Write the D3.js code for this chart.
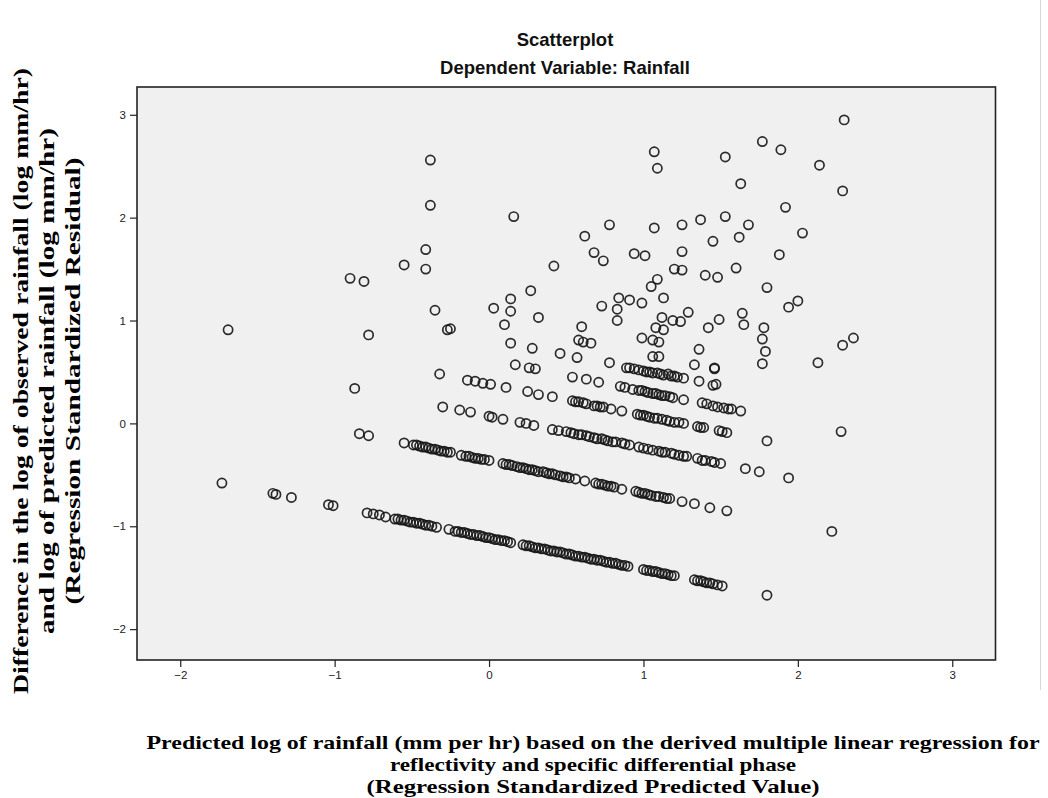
<!DOCTYPE html>
<html>
<head>
<meta charset="utf-8">
<script src="https://cdnjs.cloudflare.com/ajax/libs/d3/7.8.5/d3.min.js"></script>
<style>
  body { margin: 0; background: #fff; }
  svg { display: block; }
  .tick text { font-family: "Liberation Sans", Arial, sans-serif; font-size: 11.5px; fill: #222; }
  .title { font-family: "Liberation Sans", Arial, sans-serif; font-weight: bold; font-size: 18.5px; fill: #111; }
  .axis-label { font-family: "Liberation Serif", "Times New Roman", serif; font-weight: bold; font-size: 21px; fill: #000; }
</style>
</head>
<body>
<svg id="chart" width="1048" height="798"></svg>
<script>
// predicted value (x) vs standardized residual (y)
var band1 = [[-1.73,-0.58],[-1.40,-0.68],[-1.38,-0.69],[-1.28,-0.72],[-1.04,-0.79],[-1.01,-0.80],
  [-0.79,-0.87],[-0.75,-0.88],[-0.71,-0.89],[-0.67,-0.91],[-0.61,-0.93],[-0.59,-0.93],[-0.57,-0.94],
  [-0.55,-0.94],[-0.53,-0.95],[-0.51,-0.96],[-0.49,-0.96],[-0.47,-0.97],[-0.45,-0.97],[-0.43,-0.98],
  [-0.41,-0.99],[-0.39,-0.99],[-0.37,-1.00],[-0.34,-1.01],[-0.26,-1.03],[-0.22,-1.05],[-0.20,-1.05],
  [-0.18,-1.06],[-0.16,-1.06],[-0.14,-1.07],[-0.12,-1.08],[-0.10,-1.08],[-0.08,-1.09],[-0.06,-1.09],
  [-0.04,-1.10],[-0.02,-1.11],[0.00,-1.11],[0.02,-1.12],[0.04,-1.13],[0.06,-1.13],[0.08,-1.14],
  [0.10,-1.14],[0.12,-1.15],[0.14,-1.16],[0.22,-1.18],[0.24,-1.19],[0.26,-1.19],[0.28,-1.20],
  [0.30,-1.21],[0.32,-1.21],[0.34,-1.22],[0.36,-1.22],[0.38,-1.23],[0.40,-1.24],[0.42,-1.24],
  [0.44,-1.25],[0.46,-1.25],[0.48,-1.26],[0.50,-1.27],[0.52,-1.27],[0.54,-1.28],[0.56,-1.29],
  [0.58,-1.29],[0.60,-1.30],[0.62,-1.30],[0.64,-1.31],[0.66,-1.32],[0.68,-1.32],[0.70,-1.33],
  [0.72,-1.33],[0.74,-1.34],[0.76,-1.35],[0.78,-1.35],[0.80,-1.36],[0.82,-1.36],[0.84,-1.37],
  [0.86,-1.38],[0.88,-1.38],[0.90,-1.39],[1.00,-1.42],[1.02,-1.43],[1.04,-1.43],[1.06,-1.44],
  [1.08,-1.44],[1.10,-1.45],[1.12,-1.46],[1.14,-1.46],[1.16,-1.47],[1.18,-1.48],[1.20,-1.48],
  [1.33,-1.52],[1.35,-1.53],[1.37,-1.53],[1.39,-1.54],[1.41,-1.55],[1.43,-1.55],[1.45,-1.56],
  [1.48,-1.57],[1.51,-1.58],[1.80,-1.67]];

var band2 = [[-0.84,-0.10],[-0.78,-0.12],[-0.55,-0.19],[-0.49,-0.21],[-0.47,-0.21],[-0.45,-0.22],
  [-0.43,-0.23],[-0.41,-0.23],[-0.39,-0.24],[-0.37,-0.25],[-0.35,-0.25],[-0.33,-0.26],[-0.31,-0.27],
  [-0.29,-0.27],[-0.27,-0.28],[-0.25,-0.28],[-0.18,-0.31],[-0.15,-0.32],[-0.13,-0.32],[-0.11,-0.33],
  [-0.09,-0.34],[-0.07,-0.34],[-0.05,-0.35],[-0.03,-0.35],[0.00,-0.36],[0.09,-0.39],[0.11,-0.40],
  [0.13,-0.40],[0.15,-0.41],[0.18,-0.42],[0.20,-0.43],[0.22,-0.43],[0.24,-0.44],[0.26,-0.45],
  [0.28,-0.45],[0.30,-0.46],[0.32,-0.47],[0.35,-0.47],[0.37,-0.48],[0.39,-0.49],[0.41,-0.49],
  [0.43,-0.50],[0.46,-0.51],[0.48,-0.52],[0.50,-0.52],[0.52,-0.53],[0.56,-0.54],[0.62,-0.56],
  [0.69,-0.58],[0.71,-0.59],[0.73,-0.59],[0.75,-0.60],[0.77,-0.61],[0.79,-0.61],[0.81,-0.62],
  [0.86,-0.64],[0.95,-0.66],[0.97,-0.67],[0.99,-0.68],[1.01,-0.68],[1.03,-0.69],[1.05,-0.70],
  [1.08,-0.71],[1.10,-0.71],[1.13,-0.72],[1.15,-0.73],[1.17,-0.73],[1.25,-0.76],[1.33,-0.78],
  [1.43,-0.82],[1.54,-0.85]];

var band3 = [[-0.87,0.34],[-0.30,0.16],[-0.19,0.13],[-0.12,0.11],[0.00,0.07],[0.02,0.06],[0.09,0.04],
  [0.20,0.01],[0.24,0.00],[0.29,-0.02],[0.41,-0.06],[0.45,-0.07],[0.50,-0.08],[0.53,-0.09],
  [0.55,-0.10],[0.58,-0.11],[0.60,-0.11],[0.63,-0.12],[0.65,-0.13],[0.68,-0.14],[0.70,-0.15],
  [0.73,-0.15],[0.75,-0.16],[0.77,-0.17],[0.80,-0.18],[0.82,-0.18],[0.86,-0.19],[0.88,-0.20],
  [0.91,-0.21],[0.97,-0.23],[1.00,-0.24],[1.03,-0.25],[1.06,-0.26],[1.10,-0.27],[1.12,-0.28],
  [1.14,-0.28],[1.18,-0.29],[1.20,-0.30],[1.23,-0.31],[1.26,-0.32],[1.28,-0.32],[1.35,-0.34],
  [1.38,-0.36],[1.40,-0.36],[1.44,-0.37],[1.46,-0.38],[1.50,-0.39],[1.66,-0.44],[1.75,-0.47],
  [1.94,-0.53]];

var band4 = [[-0.32,0.48],[-0.14,0.42],[-0.09,0.41],[-0.04,0.39],[0.01,0.38],[0.11,0.35],[0.25,0.31],
  [0.32,0.28],[0.41,0.26],[0.54,0.22],[0.56,0.21],[0.58,0.21],[0.61,0.20],[0.63,0.19],[0.68,0.17],
  [0.70,0.17],[0.72,0.16],[0.74,0.16],[0.79,0.14],[0.86,0.12],[0.96,0.09],[0.98,0.08],[1.00,0.08],
  [1.02,0.07],[1.04,0.06],[1.07,0.05],[1.09,0.05],[1.12,0.04],[1.15,0.03],[1.17,0.02],[1.20,0.01],
  [1.23,0.01],[1.26,0.00],[1.35,-0.03],[1.37,-0.04],[1.39,-0.04],[1.49,-0.07],[1.51,-0.08],
  [1.54,-0.09]];

var band5 = [[0.17,0.57],[0.26,0.54],[0.30,0.53],[0.54,0.45],[0.63,0.43],[0.71,0.40],[0.85,0.36],
  [0.88,0.35],[0.93,0.33],[0.97,0.32],[0.99,0.32],[1.01,0.31],[1.03,0.30],[1.06,0.29],[1.08,0.29],
  [1.10,0.28],[1.12,0.27],[1.14,0.27],[1.17,0.26],[1.19,0.25],[1.26,0.23],[1.38,0.20],[1.41,0.19],
  [1.45,0.17],[1.48,0.16],[1.52,0.15],[1.55,0.14],[1.57,0.14],[1.63,0.12]];

var band6 = [[0.14,0.78],[0.28,0.73],[0.46,0.68],[0.57,0.64],[0.78,0.59],[0.89,0.54],[0.91,0.54],
  [0.94,0.53],[0.97,0.52],[1.00,0.51],[1.02,0.50],[1.04,0.50],[1.06,0.49],[1.09,0.49],[1.11,0.48],
  [1.13,0.47],[1.16,0.48],[1.18,0.46],[1.20,0.46],[1.22,0.45],[1.26,0.44],[1.36,0.41],[1.45,0.37],
  [1.47,0.38]];

// the loose points above and right of the bands
var scattered = [[-1.69,0.91],[-0.90,1.41],[-0.81,1.38],[-0.78,0.86],[-0.55,1.54],[-0.41,1.69],
  [-0.41,1.50],[-0.38,2.56],[-0.38,2.12],[-0.35,1.10],[-0.27,0.91],[-0.25,0.92],[0.03,1.12],
  [0.10,0.96],[0.14,1.21],[0.14,1.09],[0.16,2.01],[0.27,1.29],[0.32,1.03],[0.42,1.53],[0.60,0.94],
  [0.62,1.82],[0.68,1.66],[0.74,1.58],[0.73,1.14],[0.78,1.93],[0.83,1.11],[0.83,1.00],[0.84,1.22],
  [0.91,1.20],[0.99,1.17],[0.94,1.65],[1.01,1.63],[1.07,2.64],[1.09,2.48],[1.07,1.90],[1.25,1.93],
  [1.37,1.98],[1.53,2.01],[1.53,2.59],[1.63,2.33],[1.68,1.93],[1.62,1.81],[1.45,1.77],[1.77,2.74],
  [1.89,2.66],[2.30,2.95],[2.14,2.51],[2.29,2.26],[1.92,2.10],[2.03,1.85],[1.25,1.67],[1.88,1.64],
  [1.20,1.50],[1.25,1.49],[1.60,1.51],[1.40,1.44],[1.48,1.42],[1.09,1.40],[1.05,1.33],[1.80,1.32],
  [1.13,1.22],[2.00,1.19],[1.94,1.13],[1.29,1.08],[1.24,0.99],[1.19,1.00],[1.12,1.03],[1.08,0.93],
  [1.13,0.91],[1.49,1.01],[1.42,0.93],[1.64,1.07],[1.65,0.96],[1.78,0.93],[1.77,0.82],[1.79,0.70],
  [1.77,0.58],[0.58,0.81],[0.61,0.79],[0.66,0.78],[0.99,0.83],[1.06,0.81],[1.10,0.79],[1.06,0.65],
  [1.10,0.65],[1.36,0.72],[1.33,0.57],[1.46,0.54],[1.46,0.53],[2.13,0.59],[2.29,0.76],[2.36,0.83],
  [2.28,-0.08],[1.80,-0.17],[2.22,-1.05]];

var xTicks = [-2, -1, 0, 1, 2, 3];
var yTicks = [-2, -1, 0, 1, 2, 3];

var titleLines = ["Scatterplot", "Dependent Variable: Rainfall"];
var yLabelLines = ["Difference in the log of observed rainfall (log mm/hr)",
  "and log of predicted rainfall (log mm/hr)",
  "(Regression Standardized Residual)"];
var xLabelLines = ["Predicted log of rainfall (mm per hr) based on the derived multiple linear regression for",
  "reflectivity and specific differential phase",
  "(Regression Standardized Predicted Value)"];

var points = band1.concat(band2, band3, band4, band5, band6, scattered);

var svg = d3.select("#chart");
var plot = { left: 137, right: 995.5, top: 87, bottom: 660 };

var x = d3.scaleLinear().domain([-2.28, 3.28]).range([plot.left, plot.right]);
var y = d3.scaleLinear().domain([-2.30, 3.27]).range([plot.bottom, plot.top]);

// faint page edge on the right
svg.append("line")
  .attr("x1", 1040.5).attr("x2", 1040.5).attr("y1", 0).attr("y2", 690)
  .attr("stroke", "#d8d8d8").attr("stroke-width", 1);

svg.append("rect")
  .attr("x", plot.left).attr("y", plot.top)
  .attr("width", plot.right - plot.left).attr("height", plot.bottom - plot.top)
  .attr("fill", "#f0f0f0");

var xAxis = svg.append("g")
  .attr("transform", "translate(0," + plot.bottom + ")")
  .call(d3.axisBottom(x).tickValues(xTicks).tickSize(7).tickPadding(4).tickFormat(d3.format("d")));
var yAxis = svg.append("g")
  .attr("transform", "translate(" + plot.left + ",0)")
  .call(d3.axisLeft(y).tickValues(yTicks).tickSize(7).tickPadding(4).tickFormat(d3.format("d")));
[xAxis, yAxis].forEach(function(a) {
  a.select(".domain").remove();
  a.selectAll(".tick line").attr("stroke", "#222").attr("stroke-width", 1.2);
});

svg.append("g")
  .selectAll("circle")
  .data(points)
  .enter().append("circle")
  .attr("cx", function(d) { return x(d[0]); })
  .attr("cy", function(d) { return y(d[1]); })
  .attr("r", 4.6)
  .attr("fill", "none")
  .attr("stroke", "#151515")
  .attr("stroke-width", 1.7)
  .attr("stroke-opacity", 0.9);

// frame on top of the marks
svg.append("rect")
  .attr("x", plot.left).attr("y", plot.top)
  .attr("width", plot.right - plot.left).attr("height", plot.bottom - plot.top)
  .attr("fill", "none").attr("stroke", "#222").attr("stroke-width", 1.6);

svg.selectAll(".title")
  .data(titleLines)
  .enter().append("text")
  .attr("class", "title")
  .attr("x", 565)
  .attr("y", function(d, i) { return 46 + i * 28; })
  .attr("text-anchor", "middle")
  .text(function(d) { return d; });

var yLabelWidths = [626, 506, 447];
svg.append("g")
  .attr("transform", "translate(0,381) rotate(-90)")
  .selectAll("text")
  .data(yLabelLines)
  .enter().append("text")
  .attr("class", "axis-label")
  .attr("x", 0)
  .attr("y", function(d, i) { return 28 + i * 26; })
  .attr("text-anchor", "middle")
  .attr("textLength", function(d, i) { return yLabelWidths[i]; })
  .attr("lengthAdjust", "spacingAndGlyphs")
  .text(function(d) { return d; });

var xLabelWidths = [893, 406, 453];
svg.selectAll(".xlab")
  .data(xLabelLines)
  .enter().append("text")
  .attr("class", "axis-label xlab")
  .attr("x", 593)
  .attr("y", function(d, i) { return 749 + i * 22; })
  .attr("text-anchor", "middle")
  .style("font-size", "19.5px")
  .attr("textLength", function(d, i) { return xLabelWidths[i]; })
  .attr("lengthAdjust", "spacingAndGlyphs")
  .text(function(d) { return d; });
</script>
</body>
</html>
